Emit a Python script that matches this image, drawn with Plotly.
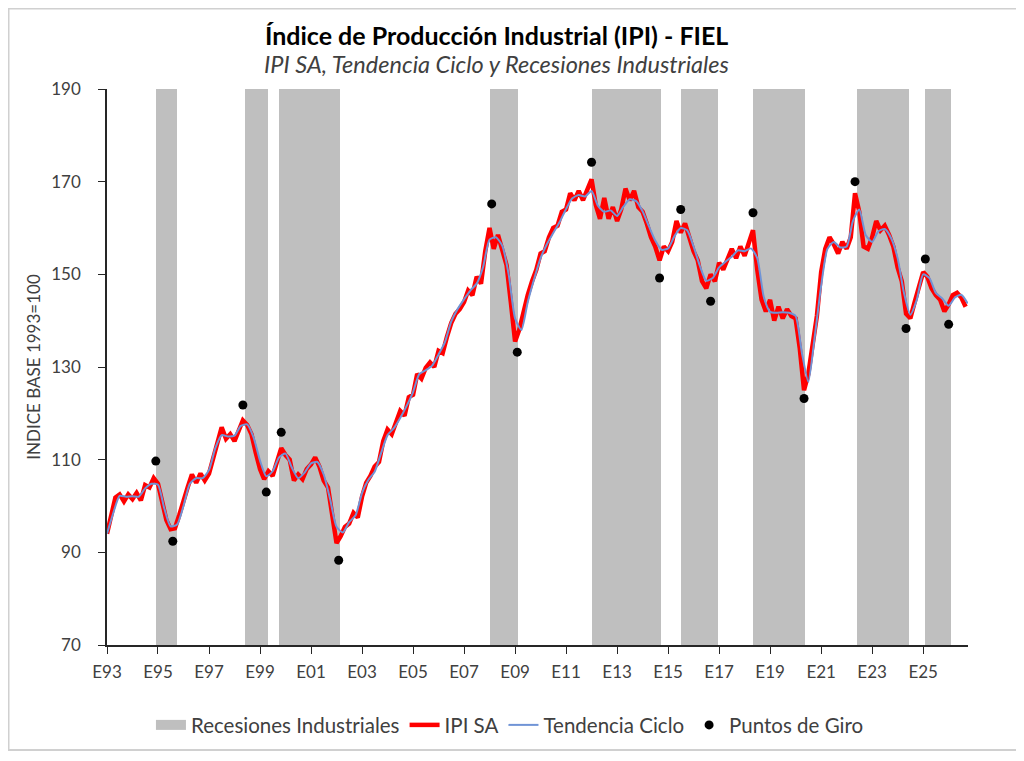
import pandas as pd
import plotly.graph_objects as go

# Tendencia ciclo, trimestral desde Ene-93
tendencia = [
    94.0, 98.5, 102.2, 102.0, 102.1, 102.0, 103.8, 104.8,
    104.6, 99.5, 95.6, 96.0, 100.0, 104.8, 106.0, 106.0,
    107.8, 112.5, 115.3, 115.0, 115.2, 117.3, 117.6, 114.8,
    109.8, 106.4, 107.5, 110.5, 111.3, 108.3, 106.0, 107.2,
    109.2, 109.5, 106.8, 101.5, 95.5, 94.3, 96.5, 98.0,
    102.8, 105.6, 107.4, 111.4, 115.3, 116.8, 119.0, 121.6,
    124.6, 128.5, 129.3, 130.3, 132.7, 135.3, 139.8, 142.5,
    144.6, 146.5, 148.0, 151.6, 157.5, 158.0, 156.2, 150.0,
    140.5, 138.0, 144.0, 149.0, 153.5, 156.5, 158.9, 161.3,
    164.1, 166.4, 167.1, 166.8, 168.0, 164.8, 163.5, 163.8,
    162.6, 164.6, 166.2, 165.8, 163.6, 160.4, 157.3, 155.3,
    155.6, 158.2, 160.0, 159.5, 156.0, 151.8, 148.6, 149.2,
    151.5, 152.7, 153.8, 155.2, 155.0, 155.6, 153.5, 145.2,
    141.9, 141.7, 141.8, 141.7, 141.0, 133.0, 126.8, 136.5,
    147.5, 155.5, 157.0, 155.8, 156.0, 161.5, 164.0, 158.5,
    157.0, 159.3, 159.8, 157.8, 153.5, 146.0, 141.3, 144.5,
    150.0, 149.2, 146.0, 144.8, 143.2, 145.0, 145.6, 143.7,
]

# IPI desestacionalizado, bimestral desde Ene-93
ipi_sa = [
    94.0, 97.5, 101.8, 102.5, 101.0, 102.5,
    101.5, 102.8, 101.2, 104.5, 104.0, 106.0,
    104.8, 101.0, 97.0, 95.0, 95.2, 98.0,
    101.5, 104.0, 106.8, 105.0, 107.0, 105.5,
    107.0, 110.5, 114.0, 117.0, 114.5, 115.5,
    114.0, 116.5, 118.5, 117.5, 115.5, 111.5,
    108.0, 105.8, 107.5, 106.5, 110.0, 112.5,
    111.0, 110.0, 105.5, 106.8, 105.8, 108.0,
    109.0, 110.5, 108.5, 105.5, 104.0, 98.5,
    92.0, 93.5, 95.5, 96.2, 98.5, 97.5,
    102.0, 105.0, 106.5, 108.5, 109.5, 114.0,
    116.5, 115.5, 118.0, 120.5, 119.5, 123.5,
    124.0, 128.5, 127.5, 129.8, 131.0, 130.0,
    133.5, 133.0, 136.5, 139.5, 141.5, 142.5,
    144.0, 146.5, 145.5, 149.5, 148.0, 155.0,
    160.0, 155.5, 158.5, 155.0, 152.0, 144.0,
    135.5, 138.0, 142.0, 145.5, 148.5, 151.0,
    154.5, 155.0, 158.0, 160.0, 160.5, 163.5,
    164.0, 167.5, 166.0, 168.0, 166.0, 168.0,
    170.5, 165.0, 162.0, 166.5, 162.0, 164.5,
    161.5, 164.0, 168.5, 166.0, 168.0, 164.5,
    163.5, 161.0, 158.0, 156.0, 153.0, 156.0,
    155.0, 157.0, 161.5, 159.0, 161.0, 158.0,
    155.0, 153.0, 148.5, 147.0, 150.0, 148.5,
    152.5, 151.0, 153.0, 155.5, 153.5, 156.0,
    154.0, 156.5, 159.5, 151.0, 144.5, 142.0,
    144.5, 140.0, 143.0, 140.5, 142.5, 141.0,
    140.5, 134.0, 125.0, 128.5, 135.5, 141.0,
    150.5, 155.5, 158.0, 156.5, 154.5, 157.0,
    155.5, 158.0, 167.5, 163.5, 156.0, 155.5,
    158.0, 161.5, 159.5, 160.5, 158.5, 156.0,
    151.5, 148.5, 141.5, 140.5, 144.0, 147.5,
    150.5, 149.5, 147.0, 145.5, 144.5, 142.0,
    143.5, 145.5, 146.0, 145.0, 143.0,
]

# Puntos de giro (picos y valles)
giro_fechas = [
    "1994-12-01", "1995-08-01", "1998-05-01", "1999-04-01", "1999-11-01",
    "2002-02-01", "2008-02-01", "2009-02-01", "2012-01-01", "2014-09-01",
    "2015-07-01", "2016-09-01", "2018-05-01", "2020-05-01", "2022-05-01",
    "2024-05-01", "2025-02-01", "2026-01-01",
]
giro_valores = [
    109.7, 92.4, 121.8, 103.0, 115.9,
    88.3, 165.2, 133.2, 174.2, 149.2,
    164.0, 144.2, 163.3, 123.2, 170.0,
    138.3, 153.3, 139.2,
]

# Recesiones industriales (inicio, fin)
rec_inicio = [
    "1994-12-01", "1998-06-01", "1999-10-01", "2008-01-01", "2012-01-01",
    "2015-07-01", "2018-05-01", "2022-06-01", "2025-02-01",
]
rec_fin = [
    "1995-10-01", "1999-05-01", "2002-02-15", "2009-02-15", "2014-09-15",
    "2016-12-15", "2020-05-15", "2024-06-15", "2026-02-01",
]

anios_ticks = list(range(1993, 2026, 2))

fechas_tend = pd.date_range("1993-01-01", periods=len(tendencia), freq="QS")
fechas_ipi = pd.date_range("1993-01-01", periods=len(ipi_sa), freq="2MS")

ini = pd.to_datetime(rec_inicio)
fin = pd.to_datetime(rec_fin)
anchos = [(b - a).total_seconds() * 1000 for a, b in zip(ini, fin)]

GRIS = "#BFBFBF"
fig = go.Figure()

# Bandas de recesion como barras de fondo
fig.add_trace(go.Bar(
    x=ini, y=[120] * len(ini), base=70, width=anchos, offset=0,
    marker=dict(color=GRIS, line=dict(width=0)),
    name="Recesiones Industriales", hoverinfo="skip", showlegend=False,
))
# entrada de leyenda (rectangulo ancho como en Excel)
fig.add_trace(go.Scatter(
    x=[None], y=[None], mode="lines",
    line=dict(color=GRIS, width=13),
    name="Recesiones Industriales",
))

fig.add_trace(go.Scatter(
    x=fechas_ipi, y=ipi_sa, mode="lines",
    line=dict(color="#FF0000", width=4.5),
    name="IPI SA",
))

fig.add_trace(go.Scatter(
    x=fechas_tend, y=tendencia, mode="lines",
    line=dict(color="#7094D6", width=2, shape="spline", smoothing=0.6),
    name="Tendencia Ciclo",
))

fig.add_trace(go.Scatter(
    x=pd.to_datetime(giro_fechas), y=giro_valores, mode="markers",
    marker=dict(color="black", size=9),
    name="Puntos de Giro",
))

fig.update_xaxes(
    type="date",
    range=["1993-01-01", "2026-10-05"],
    tickvals=[f"{a}-01-01" for a in anios_ticks],
    ticktext=[f"E{a % 100:02d}" for a in anios_ticks],
    showline=True, linecolor="#262626", linewidth=1.5,
    ticks="outside", ticklen=7, tickcolor="#262626",
    ticklabelstandoff=4,
    showgrid=False, zeroline=False,
    tickfont=dict(size=17, color="#404040"),
)
fig.update_yaxes(
    range=[70, 190], tick0=70, dtick=20,
    showline=True, linecolor="#262626", linewidth=1.5,
    ticks="outside", ticklen=7, tickcolor="#262626",
    ticklabelstandoff=14,
    showgrid=False, zeroline=False,
    tickfont=dict(size=17, color="#404040"),
    title=dict(text="INDICE BASE 1993=100", font=dict(size=17, color="#404040"), standoff=6),
)

fig.add_annotation(
    text="<b>Índice de Producción Industrial (IPI) - FIEL</b>",
    xref="paper", yref="paper", x=0.452, y=1.097, yanchor="middle",
    showarrow=False, font=dict(size=25, color="black"),
)
fig.add_annotation(
    text="<i>IPI SA, Tendencia Ciclo y Recesiones Industriales</i>",
    xref="paper", yref="paper", x=0.452, y=1.045, yanchor="middle",
    showarrow=False, font=dict(size=23.5, color="#404040"),
)

# marco del grafico
fig.add_shape(
    type="rect", xref="paper", yref="paper",
    x0=-0.1144, x1=1.0592, y0=-0.1888, y1=1.1448,
    line=dict(color="#D0D0D0", width=2),
)

fig.update_layout(
    width=1024, height=761,
    margin=dict(l=99, r=64, t=81, b=124),
    paper_bgcolor="white", plot_bgcolor="white",
    font=dict(family="Lato", size=17, color="#404040"),
    bargap=0,
    showlegend=True,
    legend=dict(
        orientation="h", x=0.468, xanchor="center", y=-0.144, yanchor="middle",
        font=dict(size=20.5, color="#404040"), itemwidth=30,
    ),
)

fig.write_html("out.html")
